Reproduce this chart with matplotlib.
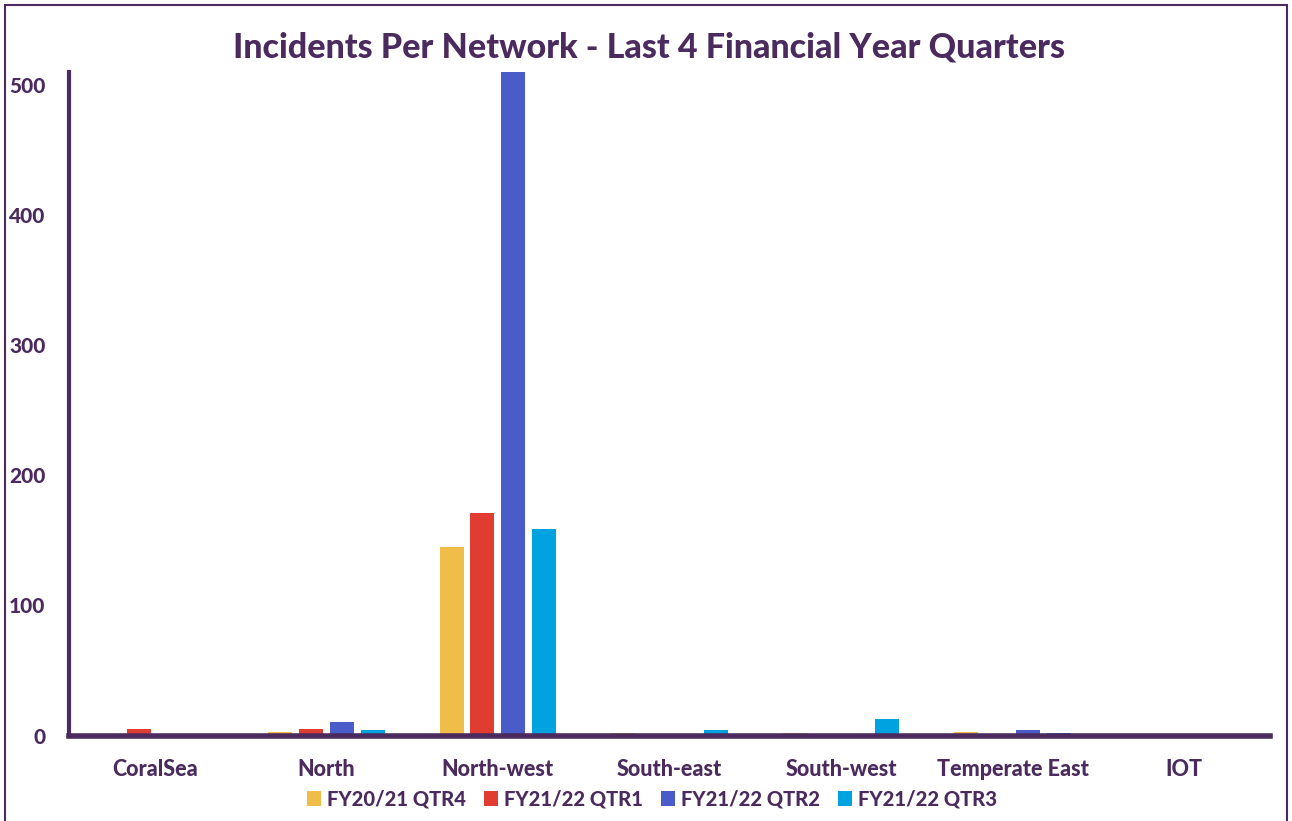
import matplotlib
matplotlib.use("Agg")
import matplotlib.pyplot as plt
from matplotlib.patches import Rectangle
import numpy as np

categories = ["CoralSea", "North", "North-west", "South-east", "South-west", "Temperate East", "IOT"]
series_names = ["FY20/21 QTR4", "FY21/22 QTR1", "FY21/22 QTR2", "FY21/22 QTR3"]
qtr4 = [0, 3, 145, 2, 2, 3, 0]
qtr1 = [5, 5, 171, 0, 0, 0, 0]
qtr2 = [0, 10, 510, 0, 0, 4, 0]
qtr3 = [0, 4, 159, 4, 13, 2, 0]
yticks = [0, 100, 200, 300, 400, 500]

colors = ["#F0BE48", "#E03C31", "#4A5CC8", "#00A3E0"]
purple = "#4B2A5E"
weight = 900

plt.rcParams['font.family'] = ['Lato', 'DejaVu Sans']

fig = plt.figure(figsize=(12.92, 8.21), dpi=100)
fig.patches.append(Rectangle((5/1292, -0.01), (1287-5)/1292, (816)/821 + 0.01, transform=fig.transFigure,
                             fill=False, edgecolor=purple, linewidth=1.5))
ax = fig.add_axes([69/1292, (821-735.5)/821, (1270-69)/1292, (735.5-72)/821])

x = np.arange(len(categories))
w = 0.14
step = 0.18
data = [qtr4, qtr1, qtr2, qtr3]
for i, (vals, c, name) in enumerate(zip(data, colors, series_names)):
    ax.bar(x + (i - 1.5) * step, vals, width=w, color=c, label=name, zorder=2)

ax.set_xlim(-0.5, len(categories) - 0.5)
ax.set_ylim(0, 510)
ax.set_yticks(yticks)
ax.set_yticklabels([str(t) for t in yticks], fontsize=15, fontweight=weight, color=purple)
ax.set_xticks(x)
ax.set_xticklabels(categories, fontsize=15.5, fontweight=weight, color=purple)
ax.tick_params(axis='both', length=0)
ax.tick_params(axis='y', pad=17)
ax.tick_params(axis='x', pad=17)
for s in ['top', 'right']:
    ax.spines[s].set_visible(False)
ax.spines['left'].set_color(purple)
ax.spines['left'].set_linewidth(3)
ax.spines['bottom'].set_color(purple)
ax.spines['bottom'].set_linewidth(4)
ax.spines['bottom'].set_zorder(3)

fig.text(649/1292, 1 - 48/821, "Incidents Per Network - Last 4 Financial Year Quarters",
         ha='center', va='center', fontsize=24.5, fontweight=weight, color=purple)

leg = fig.legend(loc='center', bbox_to_anchor=(652/1292, 1 - 799/821), ncol=4, frameon=False,
                 prop={'size': 14.5, 'weight': weight},
                 handlelength=0.7, handleheight=0.7, handletextpad=0.3, columnspacing=0.9)
for t in leg.get_texts():
    t.set_color(purple)

fig.savefig("out.png", dpi=100)
